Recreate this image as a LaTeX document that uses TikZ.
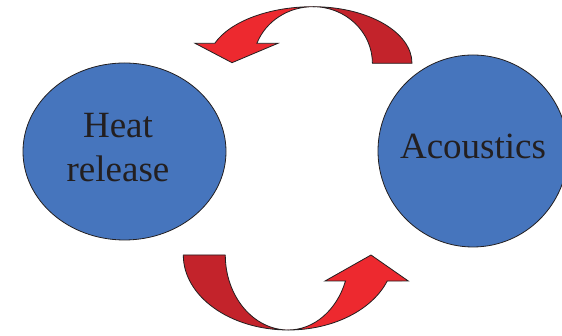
\documentclass[tikz,border=0pt]{standalone}
\usepackage{fontspec}
\setmainfont{Liberation Serif}
\usetikzlibrary{shapes.geometric}
\definecolor{bubbleblue}{RGB}{70,117,189}
\definecolor{arrowred}{RGB}{237,41,47}
\definecolor{arrowdark}{RGB}{195,35,43}
\definecolor{inkline}{RGB}{35,31,32}
\tikzstyle{bubble} = [ellipse, draw=inkline, line width=0.8pt, fill=bubbleblue, inner sep=0pt]
\tikzstyle{bubbletext} = [text=inkline, align=center, font=\fontsize{37}{44}\selectfont]
\tikzstyle{backpart} = [draw=inkline, line width=0.8pt, fill=arrowdark, line join=round]
\tikzstyle{frontpart} = [draw=inkline, line width=0.8pt, fill=arrowred]

\begin{document}
\begin{tikzpicture}[x=1pt, y=1pt]
		\useasboundingbox (0,0) rectangle (562,336);
		\node (heat) [bubble, minimum width=203pt, minimum height=177pt] at (124.5,184.5) {};
		\node (acoustics) [bubble, minimum width=190pt, minimum height=192pt] at (473,185) {};
		\node (heattext) [bubbletext] at ([xshift=-6.5pt, yshift=4pt]heat.center) {Heat\\release};
		\node (acoustext) [bubbletext] at ([yshift=4.5pt]acoustics.center) {Acoustics};
		% upper bent arrow: dark back half, then the front half with its head
		\coordinate (topturn) at (313,272.7);
		\draw [backpart] ([xshift=99pt]topturn) arc[start angle=0, end angle=90, x radius=99pt, y radius=56.6pt] arc[start angle=90, end angle=0, x radius=59.4pt, y radius=56.6pt] -- cycle;
		\draw [frontpart] ([yshift=56.6pt]topturn) arc[start angle=90, end angle=159.3, x radius=105pt, y radius=56.6pt] -- (195,292.7) -- (232,273.3) -- (278,292.7) -- (256.9,292.7) arc[start angle=159.3, end angle=90, x radius=60pt, y radius=56.6pt] -- cycle;
		% lower bent arrow
		\coordinate (lowturn) at (288.3,81);
		\draw [backpart] ([xshift=-105pt]lowturn) arc[start angle=180, end angle=270, x radius=105pt, y radius=75pt] arc[start angle=270, end angle=180, x radius=63pt, y radius=75pt] -- cycle;
		\draw [frontpart] ([yshift=-75pt]lowturn) arc[start angle=270, end angle=339.7, x radius=105.5pt, y radius=75pt] -- (408.3,55) -- (371,81) -- (325,55) -- (345.5,55) arc[start angle=339.7, end angle=270, x radius=61pt, y radius=75pt] -- cycle;
\end{tikzpicture}
\end{document}
